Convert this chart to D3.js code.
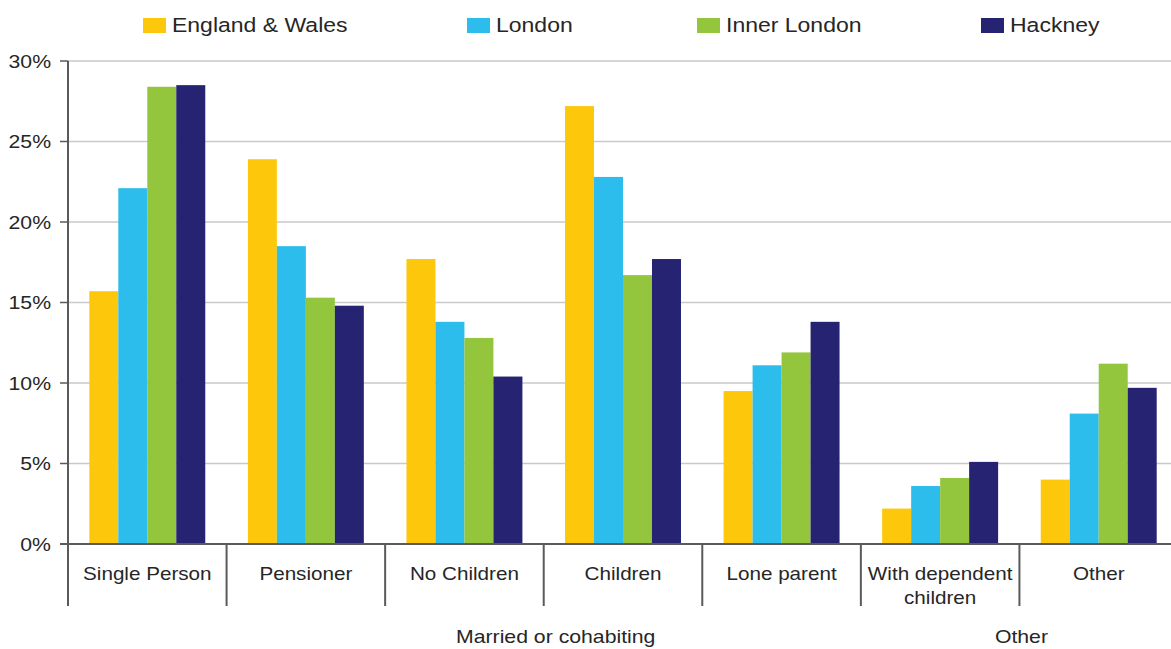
<!DOCTYPE html>
<html>
<head>
<meta charset="utf-8">
<script src="https://cdn.jsdelivr.net/npm/d3@7"></script>
<style>
  html, body { margin: 0; padding: 0; background: #fff; }
  svg { display: block; font-family: "Liberation Sans", Arial, sans-serif; }
</style>
</head>
<body>
<svg id="chart" width="1171" height="649"></svg>
<script>
const categories = ["Single Person", "Pensioner", "No Children", "Children", "Lone parent", "With dependent children", "Other"];
const categoryLines = [["Single Person"], ["Pensioner"], ["No Children"], ["Children"], ["Lone parent"], ["With dependent", "children"], ["Other"]];
const seriesNames = ["England & Wales", "London", "Inner London", "Hackney"];
const englandWales = [15.7, 23.9, 17.7, 27.2, 9.5, 2.2, 4.0];
const london       = [22.1, 18.5, 13.8, 22.8, 11.1, 3.6, 8.1];
const innerLondon  = [28.4, 15.3, 12.8, 16.7, 11.9, 4.1, 11.2];
const hackney      = [28.5, 14.8, 10.4, 17.7, 13.8, 5.1, 9.7];
const yTicks = [0, 5, 10, 15, 20, 25, 30];
const groups = [
  { label: "Married or cohabiting", from: "No Children", to: "Children" },
  { label: "Other", from: "With dependent children", to: "Other" }
];
const colors = ["#FDC80C", "#2DBDEC", "#93C53D", "#262372"];

const seriesValues = [englandWales, london, innerLondon, hackney];
const data = categories.map((c, i) => ({
  category: c,
  values: seriesNames.map((s, j) => ({ series: s, value: seriesValues[j][i] }))
}));

const svg = d3.select("#chart");
const stretch = 1.18;
const textColor = "#262626";
const axisColor = "#5a5a5a";

const x0 = d3.scaleBand().domain(categories).range([68, 1178]).paddingInner(0).paddingOuter(0);
const x1 = d3.scaleBand().domain(seriesNames).range([0, x0.bandwidth()]).paddingInner(0).paddingOuter(0.735);
const y = d3.scaleLinear().domain([0, 30]).range([544, 61]);
const color = d3.scaleOrdinal().domain(seriesNames).range(colors);

function stretchedText(sel, x, yy, txt, anchor, size) {
  return sel.append("text")
    .attr("transform", `translate(${x},${yy}) scale(${stretch},1)`)
    .attr("text-anchor", anchor)
    .attr("font-size", size)
    .attr("fill", textColor)
    .text(txt);
}

// gridlines
svg.append("g").selectAll("line").data(yTicks.filter(t => t > 0)).join("line")
  .attr("x1", 68).attr("x2", 1171)
  .attr("y1", d => y(d)).attr("y2", d => y(d))
  .attr("stroke", "#c9c9c9").attr("stroke-width", 1.5);

// bars
const g = svg.append("g");
g.selectAll("g.cat").data(data).join("g")
  .attr("class", "cat")
  .attr("transform", d => `translate(${x0(d.category)},0)`)
  .selectAll("rect").data(d => d.values).join("rect")
  .attr("x", d => x1(d.series))
  .attr("width", x1.bandwidth())
  .attr("y", d => y(d.value))
  .attr("height", d => y(0) - y(d.value))
  .attr("fill", d => color(d.series));

// y axis
const yAxis = svg.append("g");
yAxis.append("line").attr("x1", 68).attr("x2", 68).attr("y1", y(30)).attr("y2", y(0))
  .attr("stroke", axisColor).attr("stroke-width", 2);
yAxis.selectAll("line.tick").data(yTicks).join("line").attr("class", "tick")
  .attr("x1", 60).attr("x2", 68).attr("y1", d => y(d)).attr("y2", d => y(d))
  .attr("stroke", axisColor).attr("stroke-width", 1.5);
yTicks.forEach(t => {
  stretchedText(yAxis, 51, y(t) + 6.5, t + "%", "end", 18);
});

// x axis
const xAxis = svg.append("g");
xAxis.append("line").attr("x1", 60).attr("x2", 1171).attr("y1", y(0)).attr("y2", y(0))
  .attr("stroke", axisColor).attr("stroke-width", 2);
const dividers = categories.map(c => x0(c)).concat([x0(categories[categories.length - 1]) + x0.bandwidth()]);
xAxis.selectAll("line.div").data(dividers).join("line").attr("class", "div")
  .attr("x1", d => d).attr("x2", d => d).attr("y1", y(0)).attr("y2", 606)
  .attr("stroke", axisColor).attr("stroke-width", 2);
categories.forEach((c, i) => {
  const cx = x0(c) + x0.bandwidth() / 2;
  categoryLines[i].forEach((line, k) => {
    stretchedText(xAxis, cx, 580 + k * 24, line, "middle", 17.5);
  });
});
groups.forEach((gr, i) => {
  const cx = (x0(gr.from) + x0(gr.to) + x0.bandwidth()) / 2 + (i === 0 ? 12 : 2);
  stretchedText(xAxis, cx, 643, gr.label, "middle", 18);
});

// legend
const legendSwatchX = [143, 467, 697, 981];
const legend = svg.append("g");
seriesNames.forEach((s, i) => {
  legend.append("rect").attr("x", legendSwatchX[i]).attr("y", 18).attr("width", 23).attr("height", 15)
    .attr("fill", color(s));
  stretchedText(legend, legendSwatchX[i] + 29, 32, s, "start", 19.5);
});
</script>
</body>
</html>
